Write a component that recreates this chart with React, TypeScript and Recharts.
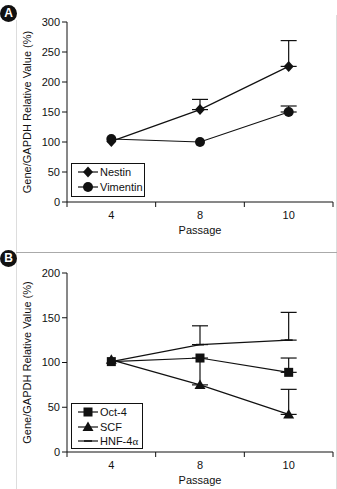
import React from 'react';
import { LineChart, Line, XAxis, YAxis, Legend, ErrorBar } from 'recharts';

// passage categories, placed at band centres (x = index + 0.5)
const PASSAGES = ['4', '8', '10'];

// panel A
const NESTIN = [101, 154, 226];
const NESTIN_ERR = [null, 17, 43];
const VIMENTIN = [105, 100, 150];
const VIMENTIN_ERR = [null, null, 10];
const TICKS_A = [0, 50, 100, 150, 200, 250, 300];

// panel B
const OCT4 = [101, 105, 89];
const OCT4_ERR = [null, null, 16];
const SCF = [103, 75, 42];
const SCF_ERR = [null, 30, 28];
const HNF4A = [101, 120, 125];
const HNF4A_ERR = [null, 21, 31];
const TICKS_B = [0, 50, 100, 150, 200];

const X_TICKS = [0, 0.5, 1, 1.5, 2, 2.5, 3];

const up = (e: number | null) => (e == null ? null : [0, e]);

const dataA = PASSAGES.map((p, i) => ({
  x: i + 0.5,
  nestin: NESTIN[i],
  nestinErr: up(NESTIN_ERR[i]),
  vimentin: VIMENTIN[i],
  vimentinErr: up(VIMENTIN_ERR[i]),
}));

const dataB = PASSAGES.map((p, i) => ({
  x: i + 0.5,
  oct4: OCT4[i],
  oct4Err: up(OCT4_ERR[i]),
  scf: SCF[i],
  scfErr: up(SCF_ERR[i]),
  hnf: HNF4A[i],
  hnfErr: up(HNF4A_ERR[i]),
}));

const INK = '#111';
const FONT = 'Arial, "Liberation Sans", Helvetica, sans-serif';

type Shape = 'diamond' | 'circle' | 'square' | 'triangle' | 'dash';

const Marker = ({ shape, cx, cy }: { shape: Shape; cx: number; cy: number }) => {
  switch (shape) {
    case 'diamond':
      return <polygon points={`${cx},${cy - 5.5} ${cx + 5},${cy} ${cx},${cy + 5.5} ${cx - 5},${cy}`} fill={INK} />;
    case 'circle':
      return <circle cx={cx} cy={cy} r={5} fill={INK} />;
    case 'square':
      return <rect x={cx - 4.5} y={cy - 4.5} width={9} height={9} fill={INK} />;
    case 'triangle':
      return <polygon points={`${cx},${cy - 5.5} ${cx + 5.5},${cy + 4} ${cx - 5.5},${cy + 4}`} fill={INK} />;
    default:
      return <line x1={cx - 4} x2={cx + 4} y1={cy} y2={cy} stroke={INK} strokeWidth={1.6} />;
  }
};

const dot = (shape: Shape) => (props: any) => (
  <g key={`${shape}-${props.index}`}>
    {props.cx != null && props.cy != null && <Marker shape={shape} cx={props.cx} cy={props.cy} />}
  </g>
);

// tick marks at band edges, labels at band centres
const XTick = (props: any) => {
  const { x, y, payload } = props;
  const v = payload.value;
  const axisY = y - 7;
  if (Number.isInteger(v)) {
    return <line x1={x} x2={x} y1={axisY} y2={axisY + 5} stroke={INK} />;
  }
  return (
    <text x={x} y={axisY + 17} textAnchor="middle" fontSize={11} fill={INK}>
      {PASSAGES[Math.floor(v)]}
    </text>
  );
};

const yLabel = (props: any) => {
  const vb = props.viewBox;
  const cy = vb.y + vb.height / 2;
  const cx = vb.x + 20;
  return (
    <text x={cx} y={cy} textAnchor="middle" dominantBaseline="central" fontSize={11} fill={INK}
      transform={`rotate(-90 ${cx} ${cy})`}>
      Gene/GAPDH Relative Value (%)
    </text>
  );
};

const xLabel = (props: any) => {
  const vb = props.viewBox;
  return (
    <text x={vb.x + vb.width / 2} y={vb.y + 32} textAnchor="middle" fontSize={11} fill={INK}>
      Passage
    </text>
  );
};

const LegendBox = ({ items }: { items: { name: React.ReactNode; shape: Shape }[] }) => (
  <div style={{ border: `1px solid ${INK}`, background: '#fff', padding: '1px 0 1px 5px', boxSizing: 'border-box', height: '100%' }}>
    {items.map((it, i) => (
      <div key={i} style={{ display: 'flex', alignItems: 'center', height: 14.5, fontSize: 11, color: INK, lineHeight: '14px', whiteSpace: 'nowrap' }}>
        <svg width={22} height={12} style={{ marginRight: 1, flex: 'none' }}>
          <line x1={1} x2={21} y1={6} y2={6} stroke={INK} strokeWidth={1.2} />
          <Marker shape={it.shape} cx={11} cy={6} />
        </svg>
        <span>{it.name}</span>
      </div>
    ))}
  </div>
);

const Badge = ({ letter, top }: { letter: string; top: number }) => (
  <div style={{
    position: 'absolute', left: 0, top, width: 17, height: 17, borderRadius: '50%', background: INK,
    color: '#fff', fontWeight: 'bold', fontSize: 12, lineHeight: '17px', textAlign: 'center',
  }}>
    {letter}
  </div>
);

const axisProps = { stroke: INK, tickLine: { stroke: INK }, axisLine: { stroke: INK } };

export default function App() {
  return (
    <div style={{ position: 'absolute', left: 0, top: 0, width: 337, height: 489, background: '#fff', fontFamily: FONT, overflow: 'hidden' }}>
      {/* figure frame */}
      <div style={{ position: 'absolute', left: 16, top: 20, width: 1, height: 469, background: '#ddd' }} />
      <div style={{ position: 'absolute', left: 336, top: 15, width: 1, height: 474, background: '#ddd' }} />
      <div style={{ position: 'absolute', left: 16, top: 252, width: 321, height: 1, background: '#aaa' }} />

      <div style={{ position: 'absolute', left: 0, top: 0 }}>
        <LineChart width={337} height={240} data={dataA} margin={{ top: 22, right: 4, bottom: 2, left: 7 }}>
          <XAxis dataKey="x" type="number" domain={[0, 3]} ticks={X_TICKS} interval={0} height={36}
            tickSize={5} tickMargin={2} tickLine={false} axisLine={{ stroke: INK }} tick={<XTick />} label={xLabel} />
          <YAxis type="number" domain={[0, 300]} ticks={TICKS_A} width={60} tickSize={5} tickMargin={2}
            tick={{ fontSize: 11, fill: INK }} {...axisProps} label={yLabel} />
          <Legend layout="horizontal" verticalAlign="middle" align="center"
            wrapperStyle={{ left: 71, top: 163, width: 74, height: 34 }}
            content={() => <LegendBox items={[{ name: 'Nestin', shape: 'diamond' }, { name: 'Vimentin', shape: 'circle' }]} />} />
          <Line dataKey="nestin" name="Nestin" stroke={INK} strokeWidth={1.2} dot={dot('diamond')} isAnimationActive={false}>
            <ErrorBar dataKey="nestinErr" direction="y" width={8} stroke={INK} strokeWidth={1.2} isAnimationActive={false} />
          </Line>
          <Line dataKey="vimentin" name="Vimentin" stroke={INK} strokeWidth={1.2} dot={dot('circle')} isAnimationActive={false}>
            <ErrorBar dataKey="vimentinErr" direction="y" width={8} stroke={INK} strokeWidth={1.2} isAnimationActive={false} />
          </Line>
        </LineChart>
      </div>
      <Badge letter="A" top={5} />

      <div style={{ position: 'absolute', left: 0, top: 240 }}>
        <LineChart width={337} height={249} data={dataB} margin={{ top: 33, right: 4, bottom: 1, left: 7 }}>
          <XAxis dataKey="x" type="number" domain={[0, 3]} ticks={X_TICKS} interval={0} height={36}
            tickSize={5} tickMargin={2} tickLine={false} axisLine={{ stroke: INK }} tick={<XTick />} label={xLabel} />
          <YAxis type="number" domain={[0, 200]} ticks={TICKS_B} width={60} tickSize={5} tickMargin={2}
            tick={{ fontSize: 11, fill: INK }} {...axisProps} label={yLabel} />
          <Legend layout="horizontal" verticalAlign="middle" align="center"
            wrapperStyle={{ left: 71, top: 163, width: 72, height: 46 }}
            content={() => (
              <LegendBox items={[
                { name: 'Oct-4', shape: 'square' },
                { name: 'SCF', shape: 'triangle' },
                { name: <>HNF-4<span style={{ fontFamily: 'serif' }}>α</span></>, shape: 'dash' },
              ]} />
            )} />
          <Line dataKey="hnf" name="HNF-4α" stroke={INK} strokeWidth={1.2} dot={dot('dash')} isAnimationActive={false}>
            <ErrorBar dataKey="hnfErr" direction="y" width={8} stroke={INK} strokeWidth={1.2} isAnimationActive={false} />
          </Line>
          <Line dataKey="scf" name="SCF" stroke={INK} strokeWidth={1.2} dot={dot('triangle')} isAnimationActive={false}>
            <ErrorBar dataKey="scfErr" direction="y" width={8} stroke={INK} strokeWidth={1.2} isAnimationActive={false} />
          </Line>
          <Line dataKey="oct4" name="Oct-4" stroke={INK} strokeWidth={1.2} dot={dot('square')} isAnimationActive={false}>
            <ErrorBar dataKey="oct4Err" direction="y" width={8} stroke={INK} strokeWidth={1.2} isAnimationActive={false} />
          </Line>
        </LineChart>
      </div>
      <Badge letter="B" top={250} />
    </div>
  );
}
